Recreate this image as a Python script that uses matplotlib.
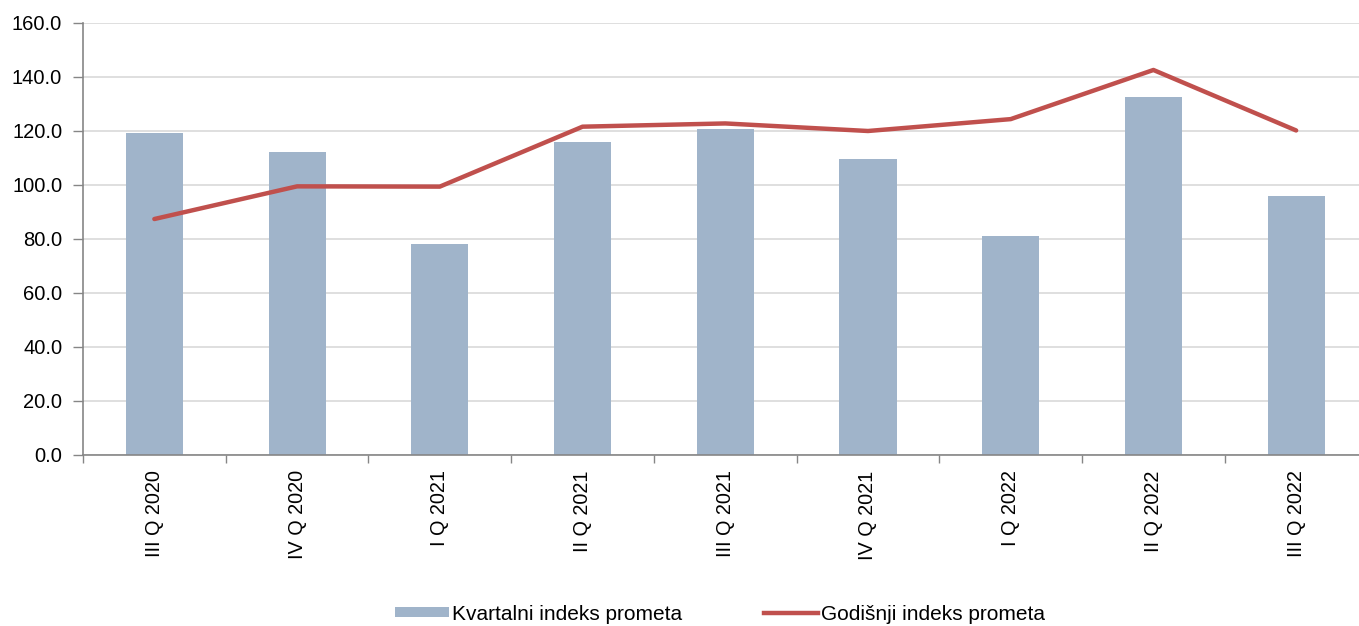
import numpy as np
import matplotlib
matplotlib.use('Agg')
import matplotlib.pyplot as plt
from matplotlib.patches import Patch
from matplotlib.lines import Line2D

plt.rcParams['font.family'] = ['Liberation Sans', 'DejaVu Sans']

quarters = ['III Q 2020', 'IV Q 2020', 'I Q 2021', 'II Q 2021', 'III Q 2021',
            'IV Q 2021', 'I Q 2022', 'II Q 2022', 'III Q 2022']
quarterly_index = [119.3, 112.3, 78.3, 116.0, 120.6, 109.5, 81.1, 132.7, 95.9]
annual_index = [87.4, 99.5, 99.4, 121.6, 122.8, 120.0, 124.4, 142.6, 120.2]
y_ticks = [0, 20, 40, 60, 80, 100, 120, 140, 160]

W, H = 1359, 626
fig = plt.figure(figsize=(W / 100, H / 100), dpi=100)
ax = fig.add_axes([83 / W, 1 - 455 / H, (1367.5 - 83) / W, (455 - 23) / H])

x = np.arange(len(quarters))
ax.bar(x, quarterly_index, width=0.4, color='#A0B4CA', zorder=2)
ax.plot(x, annual_index, color='#C0504D', linewidth=3.2, solid_capstyle='round', zorder=3)

ax.set_xlim(-0.5, len(quarters) - 0.5)
ax.set_ylim(0, 160)
ax.set_yticks(y_ticks)
ax.set_yticklabels([f'{v:.1f}' for v in y_ticks], fontsize=14.5)
ax.yaxis.grid(True, color='#D9D9D9', linewidth=1.2, zorder=0)
ax.set_axisbelow(True)

ax.set_xticks(x)
ax.set_xticklabels(quarters, rotation=90, fontsize=14.3)
ax.tick_params(axis='x', length=0, pad=11)
ax.set_xticks(np.arange(-0.5, len(quarters), 1), minor=True)
ax.tick_params(axis='x', which='minor', length=6, color='#868686', width=1)
ax.tick_params(axis='y', length=7, color='#868686', width=1, pad=8)

for side in ['top', 'right']:
    ax.spines[side].set_visible(False)
for side in ['left', 'bottom']:
    ax.spines[side].set_color('#868686')
    ax.spines[side].set_linewidth(1.2)

handles = [Patch(facecolor='#A0B4CA', label='Kvartalni indeks prometa'),
           Line2D([0], [0], color='#C0504D', linewidth=3.2, label='Godišnji indeks prometa')]
fig.legend(handles=handles, loc='center', bbox_to_anchor=(720 / W, 1 - 614 / H), ncol=2,
           frameon=False, fontsize=15, handlelength=2.6, handletextpad=0.15,
           columnspacing=3.9, handleheight=0.4, borderpad=0)

fig.savefig('out.png', dpi=100)
